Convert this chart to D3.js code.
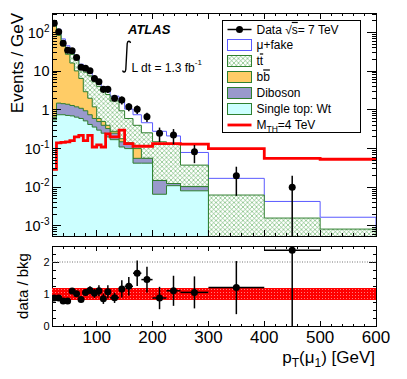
<!DOCTYPE html>
<html>
<head>
<meta charset="utf-8">
<script src="https://cdn.jsdelivr.net/npm/d3@7"></script>
<style>
  html, body { margin: 0; padding: 0; background: #fff; }
  svg { display: block; font-family: "Liberation Sans", Arial, Helvetica, sans-serif; }
</style>
</head>
<body>
<svg id="chart" width="407" height="379"></svg>
<script>
// bin edges of the pT(mu1) histogram [GeV]
const binEdges = [20, 28, 36, 44, 52, 60, 68, 76, 84, 92, 100, 108, 116, 124, 140, 150, 165, 180, 200, 225, 250, 300, 400, 500, 600];

// backgrounds, events / GeV (stacked bottom -> top)
const wtValues      = [0.55, 0.75, 0.75, 0.72, 0.7, 0.65, 0.6, 0.52, 0.42, 0.36, 0.3, 0.25, 0.2, 0.17, 0.11, 0.1, 0.042, 0.042, 0.0066, 0.011, 0.0081, 0, 0, 0];
const dibosonValues = [0.1, 0.75, 0.7, 0.68, 0.6, 0.55, 0.5, 0.43, 0.33, 0.24, 0.2, 0.15, 0.13, 0.08, 0.04, 0.04, 0.014, 0.014, 0.0084, 0.0015, 0.0023, 0, 0, 0];
const bbbarValues   = [149, 83, 44, 26, 15, 9, 5.4, 2.0, 1.25, 0.6, 0.1, 0.1, 0.07, 0.03, 0.03, 0, 0.044, 0, 0, 0, 0, 0, 0, 0];
const ttbarValues   = [30, 23, 15, 13, 11, 9.5, 6.5, 6.5, 5.6, 4.1, 3.4, 2.7, 2.1, 1.42, 0.77, 0.46, 0.3, 0.2, 0.135, 0.12, 0.027, 0.0063, 0.0016, 0.00083];
const fakeValues    = [20, 14, 8, 5, 4, 3, 2.2, 1.8, 1.6, 1.1, 0.9, 0.8, 0.7, 0.57, 0.65, 0.45, 0.35, 0.21, 0.13, 0.08, 0.042, 0.0107, 0.0027, 0.00085];

// signal M_TH = 4 TeV
const signalValues = [0.029, 0.14, 0.145, 0.15, 0.16, 0.2, 0.22, 0.16, 0.22, 0.11, 0.125, 0.11, 0.24, 0.2, 0.3, 0.135, 0.115, 0.115, 0.135, 0.135, 0.13, 0.10, 0.056, 0.053];

// data (no entry in the last bin)
const dataValues = [173, 105, 52.6, 35, 34, 22.7, 12.6, 11.9, 10.3, 6.5, 5.35, 3.4, 3.4, 2.0, 1.8, 1.21, 1.04, 0.67, 0.249, 0.224, 0.083, 0.020, 0.010];
const dataErrors = [4.6, 3.6, 2.6, 2.1, 2.1, 1.7, 1.25, 1.2, 1.13, 0.9, 0.82, 0.65, 0.65, 0.35, 0.42, 0.28, 0.26, 0.18, 0.1, 0.095, 0.041, 0.014, 0.01];

// ratio panel
const ratioValues = [0.875, 0.875, 0.78, 0.78, 1.09, 1.01, 0.83, 1.05, 1.12, 1.02, 1.10, 0.85, 1.07, 0.88, 1.16, 1.24, 1.65, 1.45, 0.875, 1.10, 1.05, 1.2, 2.37];
const ratioErrors = [0.02, 0.03, 0.04, 0.05, 0.07, 0.08, 0.08, 0.1, 0.12, 0.14, 0.17, 0.16, 0.2, 0.16, 0.27, 0.29, 0.4, 0.4, 0.35, 0.47, 0.5, 0.83, 2.37];
const bkgUncertainty = [0.18, 0.18, 0.18, 0.18, 0.18, 0.18, 0.18, 0.18, 0.18, 0.18, 0.18, 0.18, 0.18, 0.18, 0.18, 0.18, 0.18, 0.18, 0.18, 0.18, 0.18, 0.18, 0.19, 0.18];

const xTicks = [100, 200, 300, 400, 500, 600];
const yDecades = [-3, -2, -1, 0, 1, 2];
const ratioTicks = [0, 1, 2];

// layout
const frame = { left: 52, right: 376, top: 13, bottom: 236 };
const rframe = { top: 246, bottom: 326 };

const svg = d3.select("#chart");
const defs = svg.append("defs");

const x = d3.scaleLinear().domain([20, 600]).range([frame.left, frame.right]);
const y = d3.scaleLog().domain([5.5e-4, 320]).range([frame.bottom, frame.top]);
const yr = d3.scaleLinear().domain([0, 2.5]).range([rframe.bottom, rframe.top]);

// patterns
const hatch = defs.append("pattern").attr("id", "hatch")
  .attr("patternUnits", "userSpaceOnUse").attr("width", 4.5).attr("height", 4.5);
hatch.append("rect").attr("width", 4.5).attr("height", 4.5).attr("fill", "#fff");
hatch.append("path").attr("d", "M0,0 L4.5,4.5 M0,4.5 L4.5,0")
  .attr("stroke", "#52a852").attr("stroke-width", 0.55);

const redband = defs.append("pattern").attr("id", "redband")
  .attr("patternUnits", "userSpaceOnUse").attr("width", 3).attr("height", 3);
redband.append("rect").attr("width", 3).attr("height", 3).attr("fill", "#ff0000");
redband.append("rect").attr("x", 1).attr("y", 1).attr("width", 1).attr("height", 1).attr("fill", "#ff7a7a");

defs.append("clipPath").attr("id", "clipMain").append("rect")
  .attr("x", frame.left).attr("y", frame.top)
  .attr("width", frame.right - frame.left).attr("height", frame.bottom - frame.top);
defs.append("clipPath").attr("id", "clipRatio").append("rect")
  .attr("x", frame.left).attr("y", rframe.top)
  .attr("width", frame.right - frame.left).attr("height", rframe.bottom - rframe.top);

// table for the stack
const bins = binEdges.slice(0, -1).map((lo, i) => ({
  lo, hi: binEdges[i + 1],
  wt: wtValues[i], diboson: dibosonValues[i], bbbar: bbbarValues[i],
  ttbar: ttbarValues[i], fake: fakeValues[i]
}));
const keys = ["wt", "diboson", "bbbar", "ttbar", "fake"];
const stacked = d3.stack().keys(keys)(bins);

const styles = {
  fake:    { fill: "#fff", stroke: "#5a5aff" },
  ttbar:   { fill: "url(#hatch)", stroke: "#2f7f2f" },
  bbbar:   { fill: "#ffcc66", stroke: "#2f7f2f" },
  diboson: { fill: "#9999cc", stroke: "#2f7f2f" },
  wt:      { fill: "#ccffff", stroke: "#2f7f2f" }
};

function yClamp(v) {
  return v > 0 ? y(v) : frame.bottom + 5;
}

function histPath(vals, closed) {
  const pts = [];
  vals.forEach((v, i) => {
    pts.push([x(binEdges[i]), yClamp(v)]);
    pts.push([x(binEdges[i + 1]), yClamp(v)]);
  });
  if (closed) {
    pts.unshift([x(binEdges[0]), frame.bottom + 5]);
    pts.push([x(binEdges[binEdges.length - 1]), frame.bottom + 5]);
  }
  return d3.line()(pts) + (closed ? "Z" : "");
}

const main = svg.append("g").attr("clip-path", "url(#clipMain)");

// draw cumulative histograms from the top one down (ROOT-like)
stacked.slice().reverse().forEach(series => {
  const st = styles[series.key];
  main.append("path")
    .attr("d", histPath(series.map(d => d[1]), true))
    .attr("fill", st.fill)
    .attr("stroke", st.stroke)
    .attr("stroke-width", 1);
});

// signal
main.append("path")
  .attr("d", histPath(signalValues, false))
  .attr("fill", "none")
  .attr("stroke", "#ff0000")
  .attr("stroke-width", 2.8);

// data
const centers = dataValues.map((d, i) => (binEdges[i] + binEdges[i + 1]) / 2);
dataValues.forEach((d, i) => {
  const lo = d - dataErrors[i];
  main.append("line")
    .attr("x1", x(centers[i])).attr("x2", x(centers[i]))
    .attr("y1", y(d + dataErrors[i])).attr("y2", lo > 0 ? y(lo) : frame.bottom + 5)
    .attr("stroke", "#000").attr("stroke-width", 1.5);
  main.append("circle")
    .attr("cx", x(centers[i])).attr("cy", y(d)).attr("r", 3.5).attr("fill", "#000");
});

// ---- main axes
const axes = svg.append("g").attr("stroke", "#000").attr("shape-rendering", "crispEdges");
axes.append("rect")
  .attr("x", frame.left).attr("y", frame.top)
  .attr("width", frame.right - frame.left).attr("height", frame.bottom - frame.top)
  .attr("fill", "none").attr("stroke-width", 1);

const xMinor = d3.range(20, 601, 20);
function xTickMarks(yBase, dir, majorLen, minorLen) {
  xMinor.forEach(v => {
    const len = xTicks.includes(v) ? majorLen : minorLen;
    axes.append("line").attr("x1", x(v)).attr("x2", x(v))
      .attr("y1", yBase).attr("y2", yBase + dir * len);
  });
}
xTickMarks(frame.bottom, -1, 6, 3);
xTickMarks(frame.top, 1, 6, 3);
xTickMarks(rframe.bottom, -1, 5, 2.5);
xTickMarks(rframe.top, 1, 5, 2.5);

// log y ticks (decades 1e-4 .. 1e2, with 2..9 minors)
[-4].concat(yDecades).forEach(e => {
  for (let k = 1; k <= 9; k++) {
    const val = k * Math.pow(10, e);
    if (val < y.domain()[0] || val > y.domain()[1]) continue;
    const len = k === 1 ? 9 : 4.5;
    axes.append("line").attr("x1", frame.left).attr("x2", frame.left + len)
      .attr("y1", y(val)).attr("y2", y(val));
    axes.append("line").attr("x1", frame.right).attr("x2", frame.right - len)
      .attr("y1", y(val)).attr("y2", y(val));
  }
});

// y labels (main)
const labels = svg.append("g").attr("fill", "#000");
yDecades.forEach(e => {
  const t = labels.append("text")
    .attr("x", 49.5).attr("y", y(Math.pow(10, e)) + 5)
    .attr("text-anchor", "end").style("font-size", "14.5px");
  if (e === 0) t.text("1");
  else if (e === 1) t.text("10");
  else {
    t.append("tspan").text("10");
    t.append("tspan").attr("dy", -6).style("font-size", "10px").text(String(e));
  }
});

svg.append("text")
  .attr("transform", `translate(23,${frame.top}) rotate(-90)`)
  .attr("text-anchor", "end").style("font-size", "17px")
  .text("Events / GeV");

// ATLAS label
svg.append("text").attr("x", 128).attr("y", 33.5)
  .style("font-size", "13px").style("font-weight", "bold").style("font-style", "italic")
  .text("ATLAS");
svg.append("path")
  .attr("d", "M130.5,43 C130,40.5 127.6,40.5 127.2,43.5 L125.8,69.5 C125.5,72.5 123.2,72.8 122.6,70.5")
  .attr("fill", "none").attr("stroke", "#000").attr("stroke-width", 1.4);
const lumi = svg.append("text").attr("x", 131.5).attr("y", 71.5).style("font-size", "12px");
lumi.append("tspan").text("L dt = 1.3 fb");
lumi.append("tspan").attr("dy", -7).style("font-size", "8px").text("-1");

// ---- legend
const leg = svg.append("g");
leg.append("rect").attr("x", 222.7).attr("y", 20.7).attr("width", 138).attr("height", 112)
  .attr("fill", "#fff").attr("stroke", "#000").attr("stroke-width", 1)
  .attr("shape-rendering", "crispEdges");
const rowY = [29.5, 45, 61, 77, 93, 109, 125];
const symX0 = 227.5, symX1 = 251.5, txtX = 256.5;

leg.append("line").attr("x1", symX0).attr("x2", symX1).attr("y1", rowY[0]).attr("y2", rowY[0])
  .attr("stroke", "#000").attr("stroke-width", 1.5);
leg.append("circle").attr("cx", (symX0 + symX1) / 2).attr("cy", rowY[0]).attr("r", 3.5);

[["fake", 1], ["ttbar", 2], ["bbbar", 3], ["diboson", 4], ["wt", 5]].forEach(([k, r]) => {
  leg.append("rect").attr("x", symX0).attr("y", rowY[r] - 5.3)
    .attr("width", symX1 - symX0).attr("height", 10.6)
    .attr("fill", styles[k].fill).attr("stroke", styles[k].stroke).attr("stroke-width", 1)
    .attr("shape-rendering", "crispEdges");
});
leg.append("line").attr("x1", symX0).attr("x2", symX1).attr("y1", rowY[6]).attr("y2", rowY[6])
  .attr("stroke", "#ff0000").attr("stroke-width", 2.8);

function legText(r) {
  return leg.append("text").attr("x", txtX).attr("y", rowY[r] + 4.4).style("font-size", "12px");
}
let t = legText(0);
t.append("tspan").text("Data \u221A");
t.append("tspan").style("text-decoration", "overline").text("s");
t.append("tspan").text("= 7 TeV");
legText(1).text("\u03BC+fake");
t = legText(2);
t.append("tspan").text("t");
t.append("tspan").style("text-decoration", "overline").text("t");
t = legText(3);
t.append("tspan").text("b");
t.append("tspan").style("text-decoration", "overline").text("b");
legText(4).text("Diboson");
legText(5).text("Single top: Wt");
t = legText(6);
t.append("tspan").text("M");
t.append("tspan").attr("dy", 3).style("font-size", "8.5px").text("TH");
t.append("tspan").attr("dy", -3).text("=4 TeV");

// ---- ratio panel
const ratio = svg.append("g").attr("clip-path", "url(#clipRatio)");
bkgUncertainty.forEach((u, i) => {
  ratio.append("rect")
    .attr("x", x(binEdges[i])).attr("width", x(binEdges[i + 1]) - x(binEdges[i]))
    .attr("y", yr(1 + u)).attr("height", yr(1 - u) - yr(1 + u))
    .attr("fill", "url(#redband)").attr("shape-rendering", "crispEdges");
});
ratio.append("line").attr("x1", frame.left).attr("x2", frame.right)
  .attr("y1", yr(2)).attr("y2", yr(2))
  .attr("stroke", "#777").attr("stroke-width", 1).attr("stroke-dasharray", "1,1.5");

ratioValues.forEach((r, i) => {
  const cx = x(centers[i]);
  ratio.append("line")
    .attr("x1", x(binEdges[i])).attr("x2", x(binEdges[i + 1]))
    .attr("y1", yr(r)).attr("y2", yr(r))
    .attr("stroke", "#000").attr("stroke-width", 1.5);
  ratio.append("line")
    .attr("x1", cx).attr("x2", cx)
    .attr("y1", yr(r + ratioErrors[i])).attr("y2", yr(Math.max(0, r - ratioErrors[i])))
    .attr("stroke", "#000").attr("stroke-width", 1.5);
  ratio.append("circle").attr("cx", cx).attr("cy", yr(r)).attr("r", 3.5).attr("fill", "#000");
});

axes.append("rect")
  .attr("x", frame.left).attr("y", rframe.top)
  .attr("width", frame.right - frame.left).attr("height", rframe.bottom - rframe.top)
  .attr("fill", "none").attr("stroke-width", 1);

d3.range(0, 2.51, 0.25).forEach(v => {
  const len = ratioTicks.includes(v) ? 7 : 3.5;
  axes.append("line").attr("x1", frame.left).attr("x2", frame.left + len).attr("y1", yr(v)).attr("y2", yr(v));
  axes.append("line").attr("x1", frame.right).attr("x2", frame.right - len).attr("y1", yr(v)).attr("y2", yr(v));
});

ratioTicks.forEach(v => {
  labels.append("text").attr("x", 49.5).attr("y", yr(v) + 4)
    .attr("text-anchor", "end").style("font-size", "11px").text(v);
});

xTicks.forEach(v => {
  labels.append("text").attr("x", x(v)).attr("y", 343)
    .attr("text-anchor", "middle").style("font-size", "17px").text(v);
});

svg.append("text")
  .attr("transform", `translate(28,${(rframe.top + rframe.bottom) / 2}) rotate(-90)`)
  .attr("text-anchor", "middle").style("font-size", "15px")
  .text("data / bkg");

const xt = svg.append("text").attr("x", 375).attr("y", 362.5)
  .attr("text-anchor", "end").style("font-size", "17px");
xt.append("tspan").text("p");
xt.append("tspan").attr("dy", 4).style("font-size", "12px").text("T");
xt.append("tspan").attr("dy", -4).text("(\u03BC");
xt.append("tspan").attr("dy", 4).style("font-size", "12px").text("1");
xt.append("tspan").attr("dy", -4).text(") [GeV]");
</script>
</body>
</html>
